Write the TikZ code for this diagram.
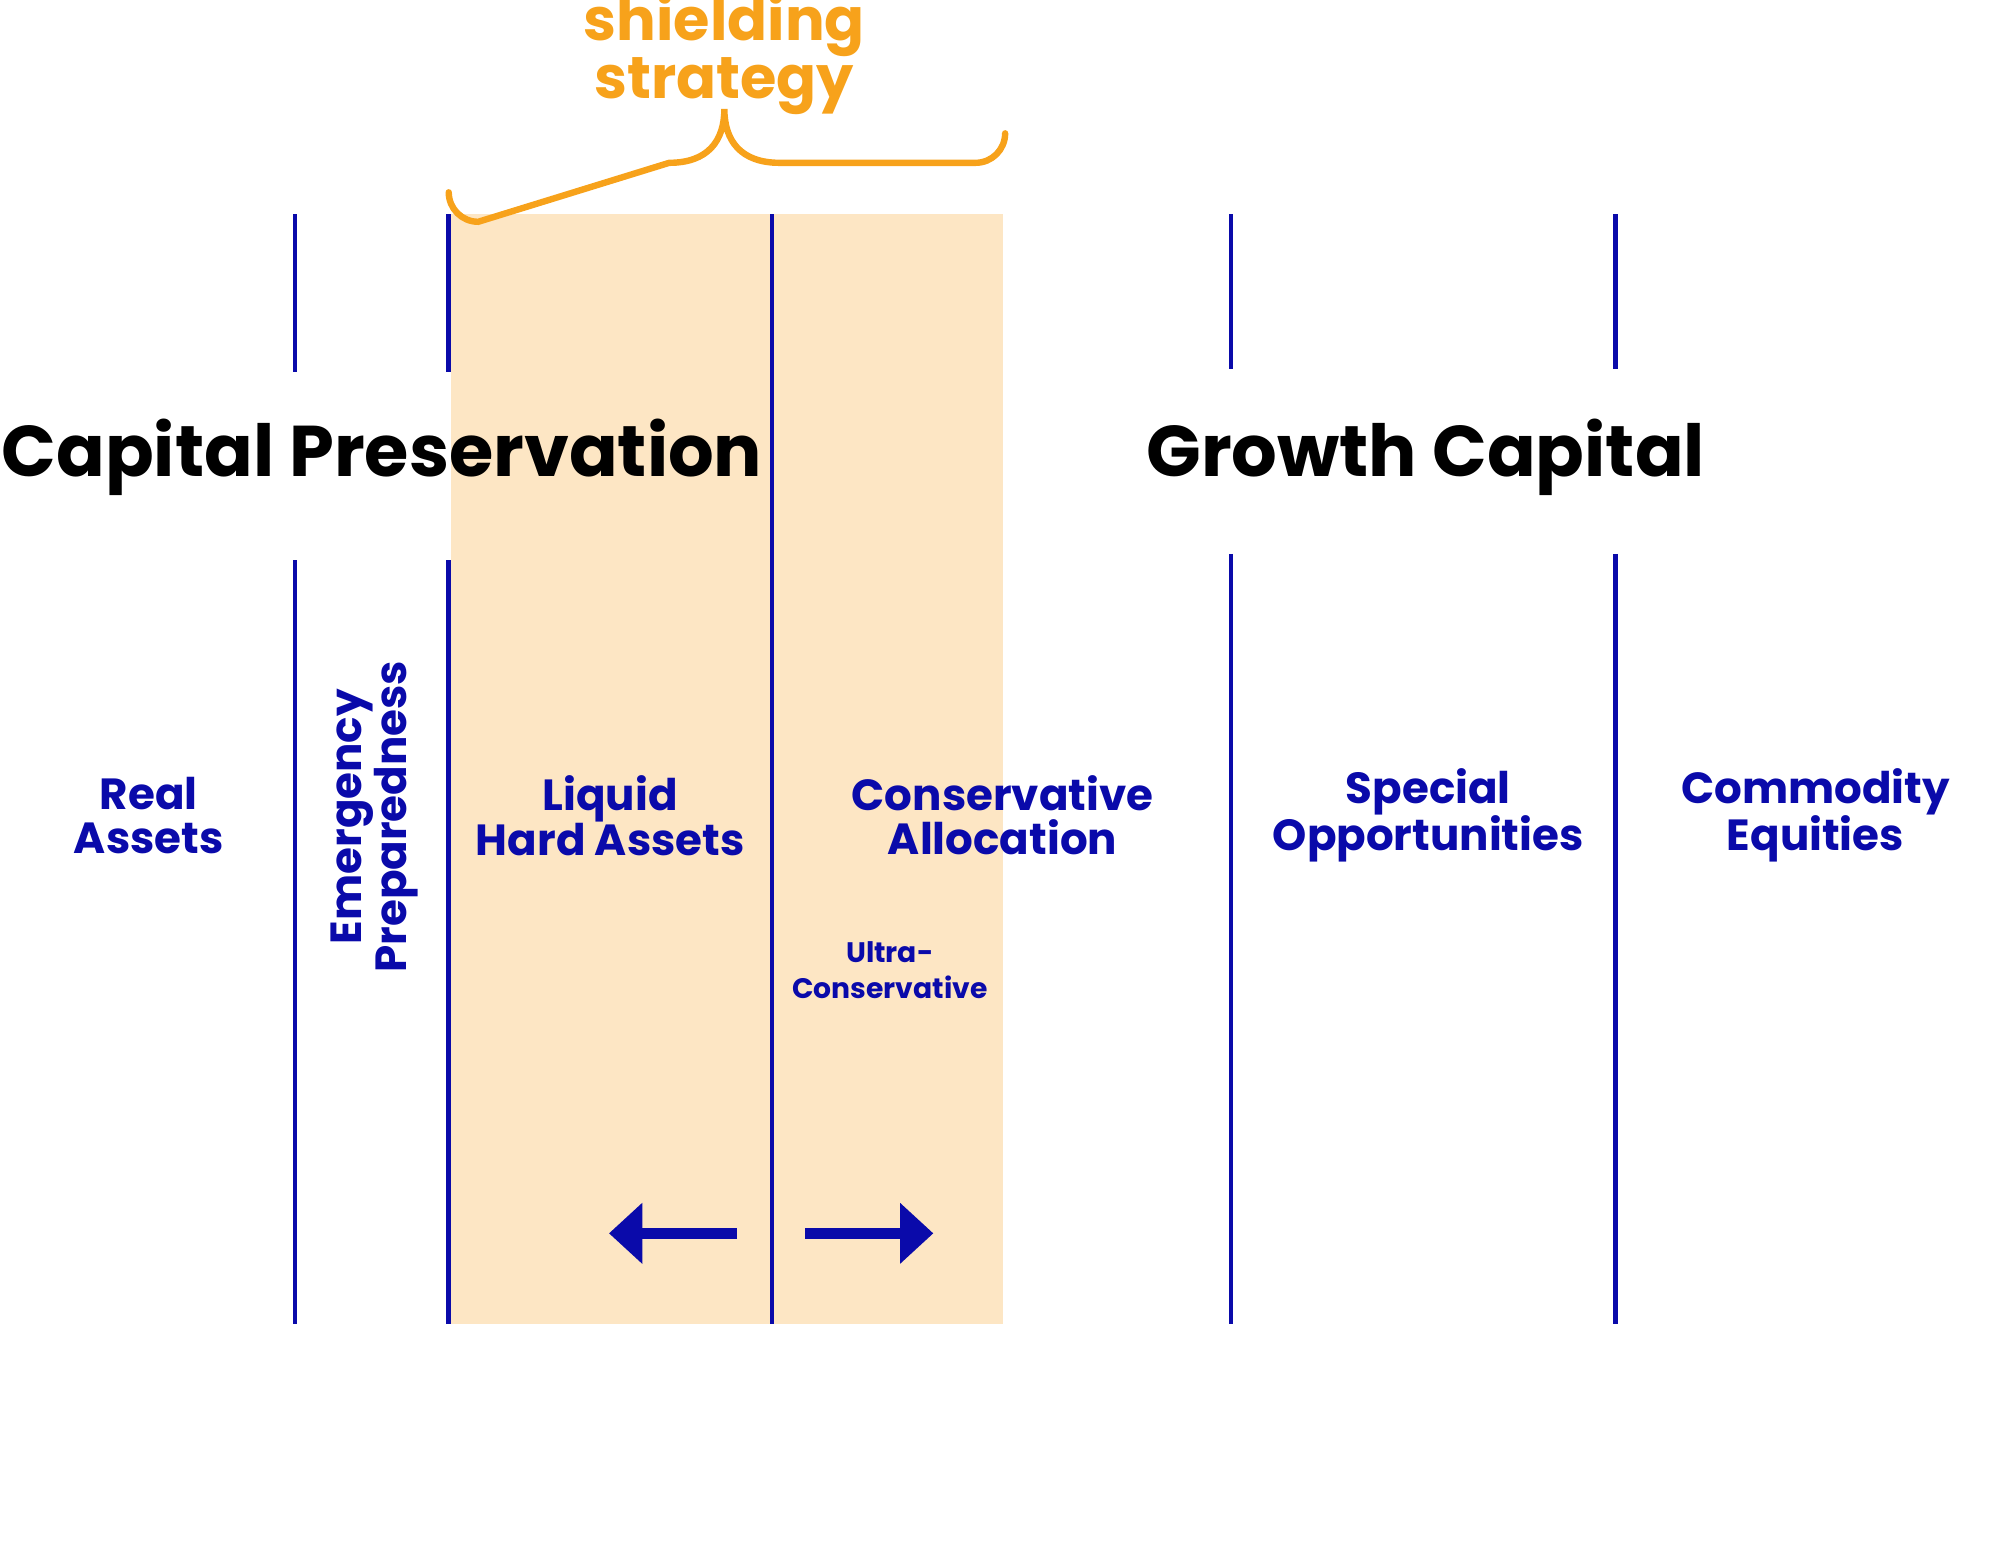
\documentclass[tikz,border=0pt]{standalone}
\usepackage{fontspec}
\setmainfont{Poppins}
\usetikzlibrary{arrows.meta}
\definecolor{navy}{HTML}{0A0AAA}
\definecolor{peach}{HTML}{FDE6C4}
\definecolor{amber}{HTML}{F7A21B}
\tikzset{
 divider/.style={navy,line width=3.5pt},
 lbl/.style={text=navy,font=\fontsize{34}{34}\selectfont\bfseries,align=center},
 big/.style={font=\fontsize{56}{56}\selectfont\bfseries},
 fat/.style={navy,line width=9pt,-{Triangle[length=26pt,width=46pt]}}
}
\begin{document}
\begin{tikzpicture}[x=1pt,y=-1pt]
\useasboundingbox (0,0) rectangle (1560,1206);
\fill[peach] (352,167) rectangle (782,1033);
% dividers
\foreach \x/\a/\b in {230/290/437,350/290/437,960/288/432,1260/288/432}{
 \draw[divider] (\x,167) -- (\x,\a);
 \draw[divider] (\x,\b) -- (\x,1033);}
\draw[divider] (602,167) -- (602,1033);
% brace
\draw[amber,line width=5pt,line cap=round] (350,150) -- (350,150) arc[start angle=180,end angle=90,radius=23] -- (522,127) .. controls (552,127) and (565,110) .. (565,85) .. controls (565,110) and (578,127) .. (608,127) -- (761,127) arc[start angle=90,end angle=0,radius=23];
\node[text=amber,font=\fontsize{46}{34}\selectfont\bfseries,align=center] (sh) at (565,42) {shielding\\strategy};
\node[big] (cp) at (298,357) {Capital Preservation};
\node[big] (gc) at (1112,357) {Growth Capital};
\node[lbl] (ra) at (116,636) {Real\\Assets};
\node[lbl,rotate=90] (ep) at (292,637) {Emergency\\Preparedness};
\node[lbl] (lh) at (476,636) {Liquid\\Hard Assets};
\node[lbl] (ca) at (782,636) {Conservative\\Allocation};
\node[lbl] (so) at (1114,636) {Special\\Opportunities};
\node[lbl] (ce) at (1416,636) {Commodity\\Equities};
\node[lbl,font=\fontsize{22}{28}\selectfont\bfseries] (uc) at (694,757) {Ultra-\\Conservative};
\coordinate (la) at (575,962); \coordinate (lb) at (475,962);
\coordinate (ra1) at (628,962); \coordinate (rb) at (728,962);
\draw[fat] (la) -- (lb);
\draw[fat] (ra1) -- (rb);
\end{tikzpicture}
\end{document}
